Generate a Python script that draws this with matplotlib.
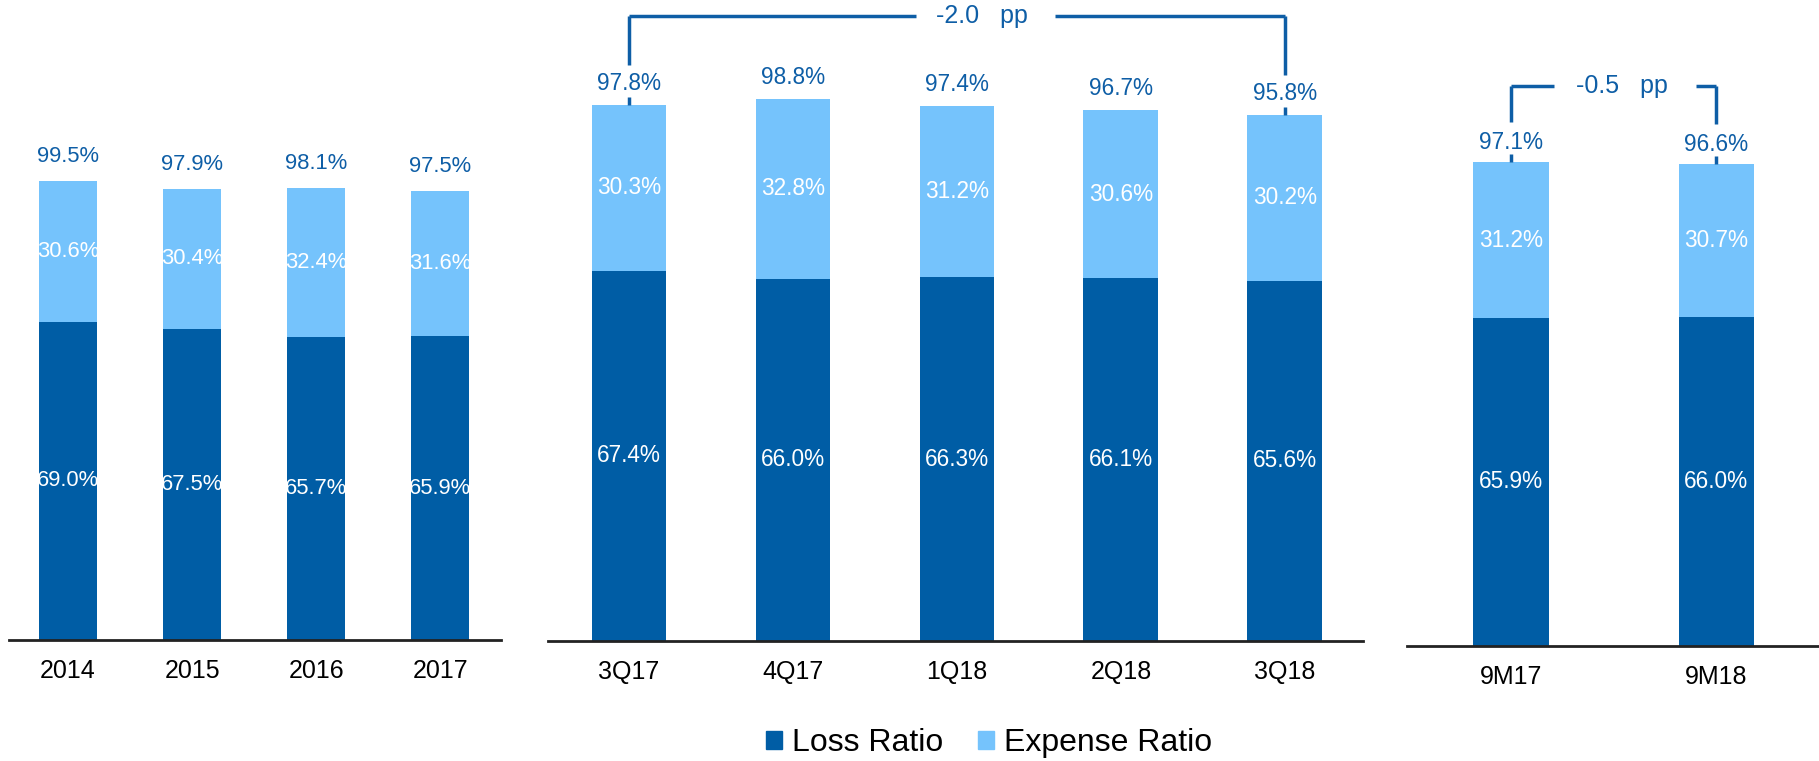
import matplotlib.pyplot as plt

plt.rcParams['font.family'] = ['Liberation Sans', 'DejaVu Sans']

# annual
years = ["2014", "2015", "2016", "2017"]
years_loss = [69.0, 67.5, 65.7, 65.9]
years_exp = [30.6, 30.4, 32.4, 31.6]
years_total = [99.5, 97.9, 98.1, 97.5]

# quarterly
quarters = ["3Q17", "4Q17", "1Q18", "2Q18", "3Q18"]
q_loss = [67.4, 66.0, 66.3, 66.1, 65.6]
q_exp = [30.3, 32.8, 31.2, 30.6, 30.2]
q_total = [97.8, 98.8, 97.4, 96.7, 95.8]

# nine months
ytd = ["9M17", "9M18"]
ytd_loss = [65.9, 66.0]
ytd_exp = [31.2, 30.7]
ytd_total = [97.1, 96.6]

DARK = "#005DA5"
LIGHT = "#75C3FC"
TXT = "#0E5EA6"

W, H = 1819, 761
fig = plt.figure(figsize=(W / 100, H / 100), dpi=100)


def make_axes(x0, x1, base):
    # pixel box -> figure fraction; axes top is figure top
    return fig.add_axes([x0 / W, (H - base) / H, (x1 - x0) / W, base / H])


def panel(ax, cats, loss, exp, total, xlim, width, px_per_unit, base, off, fs):
    x = range(len(cats))
    ax.bar(x, loss, width, color=DARK)
    ax.bar(x, exp, width, bottom=loss, color=LIGHT)
    ax.set_ylim(0, base / px_per_unit)
    ax.set_xlim(*xlim)
    for i in x:
        ax.text(i, loss[i] / 2, f"{loss[i]:.1f}%", ha="center", va="center",
                color="white", fontsize=fs)
        ax.text(i, loss[i] + exp[i] / 2, f"{exp[i]:.1f}%", ha="center", va="center",
                color="white", fontsize=fs)
        ax.annotate(f"{total[i]:.1f}%", (i, loss[i] + exp[i]), xytext=(0, off),
                    textcoords="offset points", ha="center", va="center",
                    color=TXT, fontsize=fs)
    ax.set_xticks(list(x))
    ax.set_xticklabels(cats, fontsize=18)
    ax.tick_params(axis="x", length=0, pad=14)
    ax.set_yticks([])
    for s in ["left", "right", "top"]:
        ax.spines[s].set_visible(False)
    ax.spines["bottom"].set_color("#222222")
    ax.spines["bottom"].set_linewidth(2)


def bracket(ax, loss, exp, i0, i1, top, gap_l, gap_r, label, lab_x, ppu):
    kw = dict(color=TXT, lw=2.5, clip_on=False, solid_capstyle="butt")
    for i in (i0, i1):
        t = loss[i] + exp[i]
        ax.plot([i, i], [t, t + 8 / ppu], **kw)
        ax.plot([i, i], [t + 40 / ppu, top], **kw)
    ax.plot([i0, gap_l, None, gap_r, i1], [top, top, None, top, top], **kw)
    ax.text(lab_x, top, label, ha="center", va="center", color=TXT, fontsize=18)


ax1 = make_axes(9, 501, 640)
panel(ax1, years, years_loss, years_exp, years_total, (-0.476, 3.49), 0.468, 4.61, 640, 17.5, 15.8)

ax2 = make_axes(548, 1363, 641)
panel(ax2, quarters, q_loss, q_exp, q_total, (-0.494, 4.476), 0.457, 5.49, 641, 15.5, 16.3)
bracket(ax2, q_loss, q_exp, 0, 4, (641 - 16) / 5.49, 1.75, 2.60, "-2.0   pp", 2.15, 5.49)

ax3 = make_axes(1407, 1819, 646)
panel(ax3, ytd, ytd_loss, ytd_exp, ytd_total, (-0.507, 1.502), 0.366, 4.98, 646, 14, 16.3)
bracket(ax3, ytd_loss, ytd_exp, 0, 1, (646 - 86) / 4.98, 0.21, 0.90, "-0.5   pp", 0.54, 4.98)

handles = [plt.Rectangle((0, 0), 1, 1, color=DARK), plt.Rectangle((0, 0), 1, 1, color=LIGHT)]
fig.legend(handles, ["Loss Ratio", "Expense Ratio"], loc="center",
           bbox_to_anchor=(989 / W, 1 - 743 / H), ncol=2, frameon=False,
           fontsize=23, handlelength=0.5, handleheight=0.5, handletextpad=0.3,
           columnspacing=1.1)

fig.savefig("out.png", dpi=100)
